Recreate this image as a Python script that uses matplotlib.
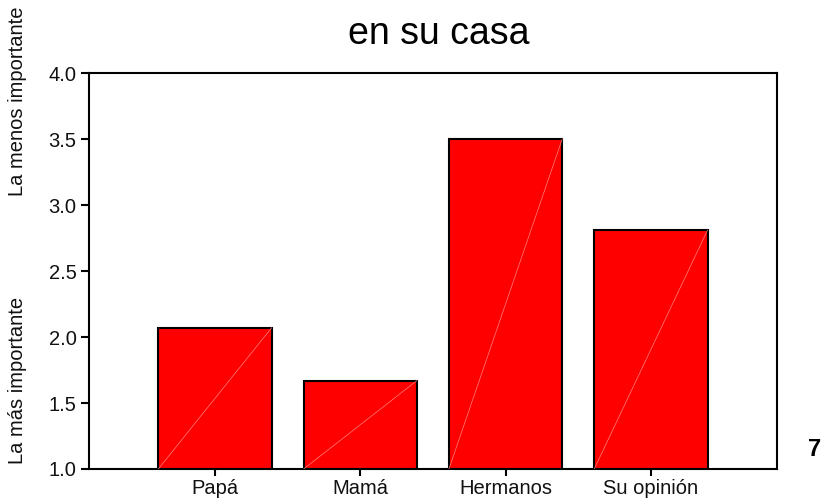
import matplotlib.pyplot as plt
import numpy as np

plt.rcParams['font.family'] = ['Liberation Sans', 'DejaVu Sans']

categorias = ['Papá', 'Mamá', 'Hermanos', 'Su opinión']
valores = [2.07, 1.67, 3.50, 2.81]
yticks = [1.0, 1.5, 2.0, 2.5, 3.0, 3.5, 4.0]

fig = plt.figure(figsize=(8.24, 5.03), dpi=100)
ax = fig.add_axes([89/824, 1 - 469/503, 688/824, 396/503])

x = np.arange(len(categorias))
ancho = 0.78
base = 1.0
ax.bar(x, np.array(valores) - base, bottom=base, width=ancho,
       color='#ff0000', edgecolor='black', linewidth=1.5, zorder=2)

# linea diagonal clara dentro de cada barra
for xi, v in zip(x, valores):
    ax.plot([xi - ancho/2, xi + ancho/2], [base, v], color='#ff8080',
            linewidth=0.5, zorder=3)

ax.set_xlim(-0.867, 3.868)
ax.set_ylim(1.0, 4.0)
ax.set_yticks(yticks)
ax.set_yticklabels(['%.1f' % t for t in yticks])
ax.set_xticks(x)
ax.set_xticklabels(categorias)
ax.tick_params(axis='both', labelsize=14.5, width=1.5, direction='out',
               labelcolor='#111111')
ax.tick_params(axis='y', length=6, pad=3)
ax.tick_params(axis='x', length=5, pad=2)
for s in ax.spines.values():
    s.set_linewidth(1.5)

fig.text(439/824, 1 - 34/503, 'en su casa', ha='center', va='center', fontsize=27)
fig.text(18/824, 1 - 101/503, 'La menos importante', rotation=90,
         ha='center', va='center', fontsize=14.5, color='#111111')
fig.text(18/824, 1 - 380/503, 'La más importante', rotation=90,
         ha='center', va='center', fontsize=14.5, color='#111111')
fig.text(815/824, 1 - 450/503, '7', ha='center', va='center',
         fontsize=17, fontweight='bold')

fig.savefig('out.png', dpi=100)
